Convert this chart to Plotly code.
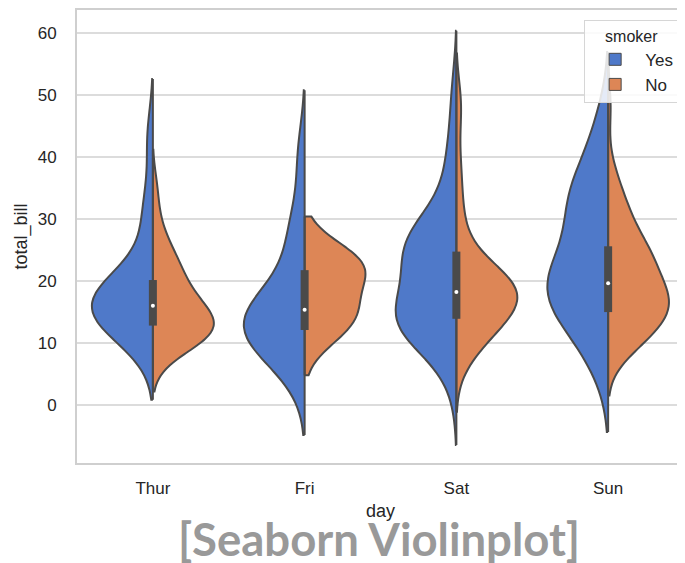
import numpy as np
import plotly.graph_objects as go

days = ["Thur", "Fri", "Sat", "Sun"]
smokers = ["Yes", "No"]

# total_bill samples per day / smoker
thur_yes = [19.44, 32.68, 16, 19.81, 28.44, 15.48, 16.58, 10.34, 43.11, 13, 13.51, 18.71, 12.74, 13, 16.4, 20.53, 16.47]
thur_no = [27.2, 22.76, 17.29, 16.66, 10.07, 15.98, 34.83, 13.03, 18.28, 24.71, 21.16, 10.65, 12.43, 24.08, 11.69,
           13.42, 14.26, 15.95, 12.48, 29.8, 8.52, 14.52, 11.38, 22.82, 19.08, 20.27, 11.17, 12.26, 18.26, 8.51, 10.33,
           14.15, 13.16]
fri_yes = [28.97, 5.75, 16.32, 40.17, 27.28, 12.03, 21.01, 11.35, 15.38, 12.16, 13.42, 8.58, 13.42, 16.27, 10.09]
fri_no = [22.49, 22.75, 12.46, 15.98]
sat_yes = [38.01, 11.24, 20.29, 13.81, 11.02, 18.29, 3.07, 15.01, 26.86, 25.28, 17.92, 44.3, 22.42, 15.36, 20.49,
           25.21, 14.31, 10.59, 10.63, 50.81, 15.81, 26.59, 38.73, 24.27, 12.76, 30.06, 25.89, 13.27, 28.17, 12.9,
           28.15, 11.59, 7.74, 30.14, 22.12, 24.01, 15.69, 15.53, 12.6, 32.83, 27.18, 22.67]
sat_no = [20.65, 17.92, 20.29, 15.77, 39.42, 19.82, 17.81, 13.37, 12.69, 21.7, 19.65, 9.55, 18.35, 15.06, 20.69,
          17.78, 24.06, 16.31, 16.93, 18.69, 31.27, 16.04, 26.41, 48.27, 17.59, 20.08, 16.45, 20.23, 12.02, 17.07,
          14.73, 10.51, 20.92, 18.24, 14, 7.25, 48.33, 20.45, 13.28, 11.61, 10.77, 10.07, 35.83, 29.03, 17.82]
sun_yes = [17.51, 7.25, 31.85, 16.82, 32.9, 17.89, 14.48, 9.6, 34.63, 34.65, 23.33, 45.35, 23.17, 40.55, 20.9,
           30.46, 18.15, 23.1, 15.69]
sun_no = [16.99, 10.34, 21.01, 23.68, 24.59, 25.29, 8.77, 26.88, 15.04, 14.78, 10.27, 35.26, 15.42, 18.43, 14.83,
          21.58, 10.33, 16.29, 16.97, 17.46, 13.94, 9.68, 30.4, 18.29, 22.23, 32.4, 28.55, 18.04, 12.54, 10.29, 34.81,
          9.94, 25.56, 19.49, 38.07, 23.95, 25.71, 17.31, 29.93, 14.07, 13.13, 17.26, 24.55, 19.77, 29.85, 48.17, 25,
          13.39, 16.49, 21.5, 12.66, 16.21, 13.81, 24.52, 20.76, 31.71, 20.69]

groups = {
    ("Thur", "Yes"): thur_yes, ("Thur", "No"): thur_no,
    ("Fri", "Yes"): fri_yes, ("Fri", "No"): fri_no,
    ("Sat", "Yes"): sat_yes, ("Sat", "No"): sat_no,
    ("Sun", "Yes"): sun_yes, ("Sun", "No"): sun_no,
}

colors = {"Yes": "#4f79c9", "No": "#dd8656"}
edge = "#4a4a4a"
grid = "#dcdcdc"
spine = "#cfcfcf"

fig = go.Figure()
for d in days:
    for s in smokers:
        v = np.array(groups[(d, s)])
        bw = v.std(ddof=1) * len(v) ** (-0.2)
        fig.add_trace(go.Violin(
            x=[d] * len(v), y=v, side="negative" if s == "Yes" else "positive",
            scalegroup=d, scalemode="width", width=0.8, bandwidth=bw,
            spanmode="soft", fillcolor=colors[s], opacity=1,
            line=dict(color=edge, width=2), points=False, showlegend=False,
            box=dict(visible=False), meanline=dict(visible=False), hoveron="violins"))
    for s in smokers:
        v = np.array(groups[(d, s)])
        bw = v.std(ddof=1) * len(v) ** (-0.2)
        fig.add_trace(go.Scatter(x=[d, d], y=[v.min() - 2 * bw, v.max() + 2 * bw], mode="lines",
                                 line=dict(color=edge, width=2), showlegend=False, hoverinfo="skip"))
    allv = np.array(groups[(d, "Yes")] + groups[(d, "No")])
    q25, q50, q75 = np.percentile(allv, [25, 50, 75])
    fig.add_trace(go.Scatter(x=[d, d], y=[q25, q75], mode="lines", line=dict(color=edge, width=8), showlegend=False))
    fig.add_trace(go.Scatter(x=[d], y=[q50], mode="markers", marker=dict(color="white", size=4), showlegend=False))

for s in smokers:
    fig.add_trace(go.Bar(x=[None], y=[None], name=s, marker=dict(color=colors[s], line=dict(color=edge, width=1))))

# page body has an 8px default margin: size the figure so it fills the window from there
fig.update_layout(
    width=677, height=555, plot_bgcolor="white", paper_bgcolor="white",
    margin=dict(l=69, r=1, t=2, b=100), violinmode="overlay", violingap=0, violingroupgap=0,
    font=dict(family="Liberation Sans, Arial", size=17, color="#262626"),
    legend=dict(x=0.992, y=0.978, xanchor="right", yanchor="top", bgcolor="rgba(255,255,255,0.85)",
                bordercolor="#d6d6d6", borderwidth=1, itemwidth=50,
                title=dict(text="smoker", side="top center", font=dict(size=16)),
                font=dict(size=17)),
    xaxis=dict(type="category", categoryorder="array", categoryarray=days, range=[-0.5, 3.5],
               showgrid=False, showline=True, linecolor=spine, linewidth=2, mirror=True,
               automargin=False, ticks="", ticklabelstandoff=9,
               title=dict(text="day", standoff=7, font=dict(size=18))),
    yaxis=dict(range=[-9.35, 63.7], dtick=10, showgrid=True, gridcolor=grid, gridwidth=1.5,
               zeroline=False, showline=True, linecolor=spine, linewidth=2, mirror=True,
               automargin=False, ticks="", ticklabelstandoff=15,
               title=dict(text="total_bill", standoff=5, font=dict(size=18))),
)
fig.add_annotation(text="<b>[Seaborn Violinplot]</b>", xref="paper", yref="paper", x=0.4975, y=-0.1675,
                   xanchor="center", yanchor="middle", showarrow=False,
                   font=dict(family="Lato", size=45.5, color="#999999"))
fig.write_html("out.html")
